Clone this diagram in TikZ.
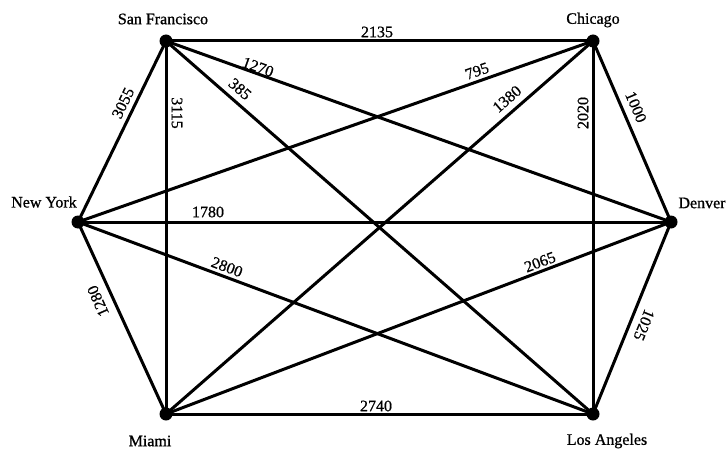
\documentclass[tikz,border=0pt]{standalone}
\usepackage{fontspec}
\setmainfont[FakeBold=0.8]{Liberation Serif}
\begin{document}
\begin{tikzpicture}[x=1pt,y=-1pt,
  city/.style={circle,fill=black,inner sep=0pt,minimum size=13pt},
  cityname/.style={font=\fontsize{16}{18}\selectfont,inner sep=0pt},
  dist/.style={font=\fontsize{16}{18}\selectfont,inner sep=0pt},
  road/.style={line width=3pt}]
\useasboundingbox (0,0) rectangle (727,449);
% cities
\node[city] (SF) at (166,41) {};
\node[city] (CH) at (593,41) {};
\node[city] (NY) at (78,222) {};
\node[city] (DE) at (671,222) {};
\node[city] (MI) at (166,414) {};
\node[city] (LA) at (593,414) {};
% city names
\node[cityname] (tSF) at (163,19) {San Francisco};
\node[cityname] (tCH) at (593,20) {Chicago};
\node[cityname] (tNY) at (44,202) {New York};
\node[cityname] (tDE) at (702,203) {Denver};
\node[cityname] (tMI) at (150,441) {Miami};
\node[cityname] (tLA) at (607,441) {Los Angeles};
% roads
\draw[road] (SF.center) -- (CH.center);
\draw[road] (SF.center) -- (NY.center);
\draw[road] (SF.center) -- (MI.center);
\draw[road] (SF.center) -- (DE.center);
\draw[road] (SF.center) -- (LA.center);
\draw[road] (CH.center) -- (NY.center);
\draw[road] (CH.center) -- (MI.center);
\draw[road] (CH.center) -- (LA.center);
\draw[road] (CH.center) -- (DE.center);
\draw[road] (NY.center) -- (DE.center);
\draw[road] (NY.center) -- (LA.center);
\draw[road] (NY.center) -- (MI.center);
\draw[road] (DE.center) -- (MI.center);
\draw[road] (DE.center) -- (LA.center);
\draw[road] (MI.center) -- (LA.center);
% distances
\node[dist] (d2135) at (377,32) {2135};
\node[dist,rotate=-19.7] (d1270) at (258,67) {1270};
\node[dist,rotate=-41] (d385) at (240,89) {385};
\node[dist,rotate=64.3] (d3055) at (123,103) {3055};
\node[dist,rotate=-90] (d3115) at (177,113) {3115};
\node[dist,rotate=19.4] (d795) at (477,71) {795};
\node[dist,rotate=41] (d1380) at (507,99) {1380};
\node[dist,rotate=90] (d2020) at (583,113) {2020};
\node[dist,rotate=-67] (d1000) at (636,107) {1000};
\node[dist] (d1780) at (208,212) {1780};
\node[dist,rotate=-20.7] (d2800) at (227,267) {2800};
\node[dist,rotate=114] (d1280) at (98,301) {1280};
\node[dist,rotate=20.9] (d2065) at (540,262) {2065};
\node[dist,rotate=-112] (d1025) at (644,325) {1025};
\node[dist] (d2740) at (376,406) {2740};
\end{tikzpicture}
\end{document}
